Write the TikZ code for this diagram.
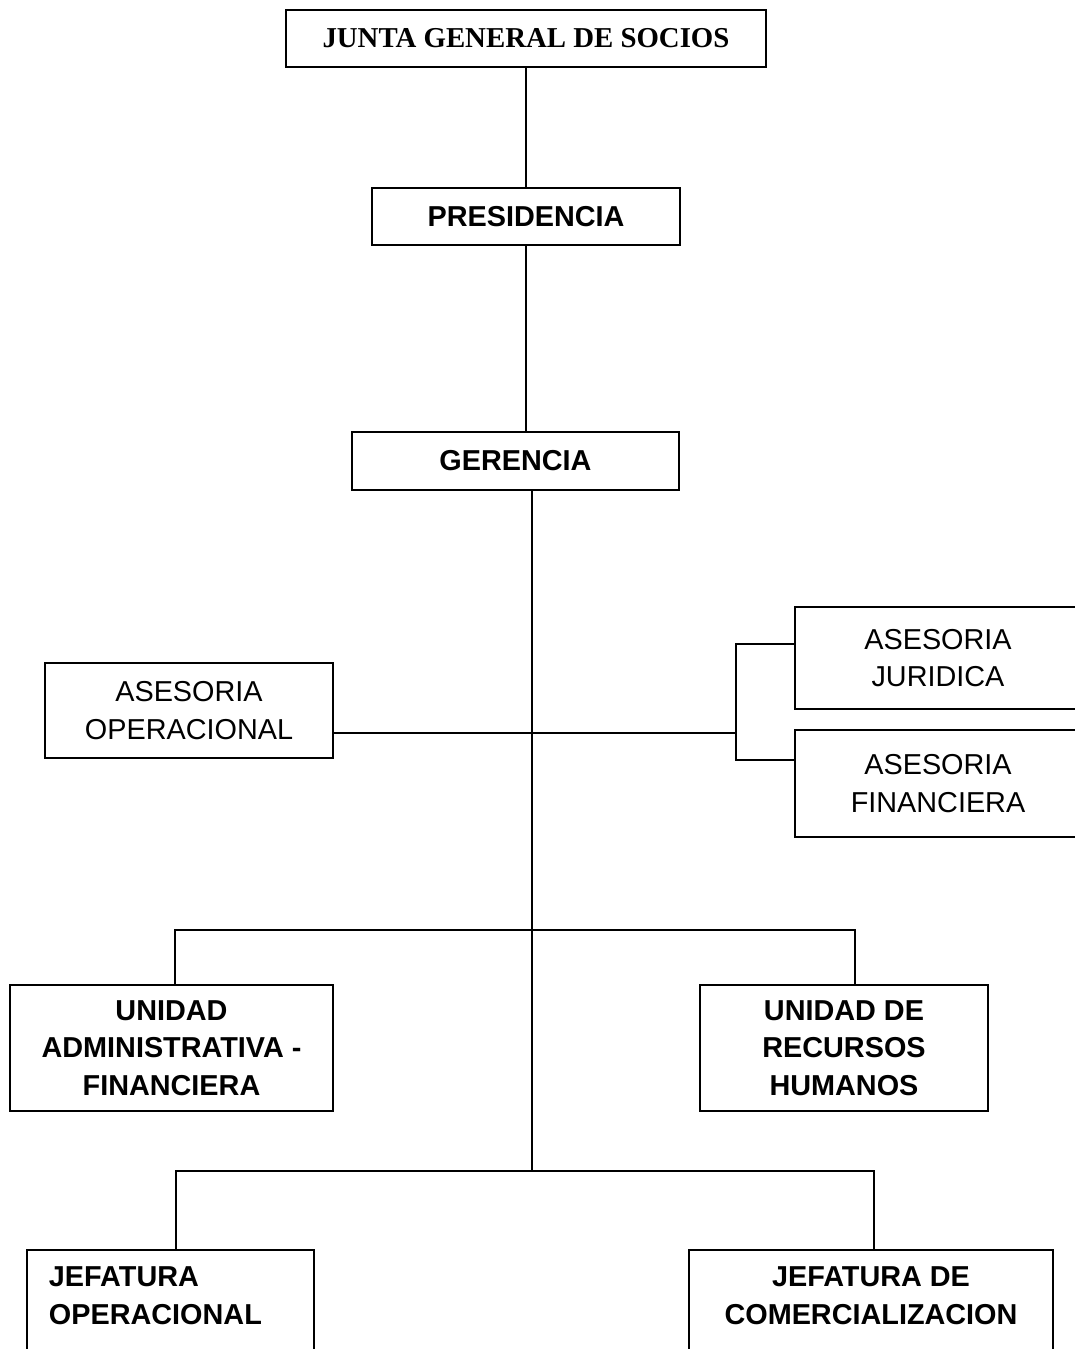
\documentclass[tikz,border=0pt]{standalone}
\usepackage{fontspec}
\setmainfont{Liberation Sans}
\newfontfamily\serifbf{Liberation Serif}
\begin{document}
\begin{tikzpicture}[x=0.02cm,y=-0.02cm,
  unit/.style={draw=black,line width=1.1pt,inner sep=0pt,align=center,font=\fontsize{16.4}{21.5}\selectfont},
  head/.style={unit,font=\fontsize{16.4}{21.5}\selectfont\bfseries},
  wire/.style={draw=black,line width=1.1pt}]
\useasboundingbox (0,0) rectangle (1075,1349);
\clip (0,0) rectangle (1075,1349);
\node[head,font=\fontsize{16.4}{21.5}\selectfont\serifbf\bfseries,minimum width=9.6cm,minimum height=1.14cm] (junta) at (526,38.5) {JUNTA GENERAL DE SOCIOS};
\node[head,minimum width=6.16cm,minimum height=1.14cm] (pres) at (526,216.5) {PRESIDENCIA};
\node[head,minimum width=6.54cm,minimum height=1.16cm] (ger) at (515.5,461) {GERENCIA};
\node[unit,minimum width=5.76cm,minimum height=1.9cm] (aop) at (189,710.5) {ASESORIA\\OPERACIONAL};
\node[unit,minimum width=5.72cm,minimum height=2.04cm] (ajur) at (938,658) {ASESORIA\\JURIDICA};
\node[unit,minimum width=5.72cm,minimum height=2.14cm] (afin) at (938,783.5) {ASESORIA\\FINANCIERA};
\node[head,minimum width=6.46cm,minimum height=2.52cm] (uadm) at (171.5,1048) {UNIDAD\\ADMINISTRATIVA -\\FINANCIERA};
\node[head,minimum width=5.76cm,minimum height=2.52cm] (urh) at (844,1048) {UNIDAD DE\\RECURSOS\\HUMANOS};
% jefaturas: the boxes run off the bottom of the page
\node[unit,anchor=north,minimum width=5.74cm,minimum height=3cm] (jop) at (170.5,1249) {};
\node[unit,anchor=north,minimum width=7.28cm,minimum height=3cm] (jcom) at (871,1249) {};
\node[head,draw=none,anchor=west,align=left] (joptxt) at (48,1296) {JEFATURA\\OPERACIONAL};
\node[head,draw=none] (jcomtxt) at (871,1296) {JEFATURA DE\\COMERCIALIZACION};
% junctions
\coordinate (hub) at (532,733);
\coordinate (rb) at (736,733);
\coordinate (rj) at (736,644);
\coordinate (rf) at (736,760);
\coordinate (b1l) at (175,930);
\coordinate (b1r) at (855,930);
\coordinate (b2l) at (176,1171);
\coordinate (b2r) at (874,1171);
\coordinate (trunk) at (532,1171);
\draw[wire] (junta.south -| pres) -- (pres.north);
\draw[wire] (pres.south) -- (pres.south |- ger.north);
\draw[wire] (ger.south -| trunk) -- (trunk);
\draw[wire] (aop.east |- hub) -- (rb);
\draw[wire] (ajur.west |- rj) -- (rj) -- (rf) -- (afin.west |- rf);
\draw[wire] (uadm.north -| b1l) -- (b1l) -- (b1r) -- (urh.north -| b1r);
\draw[wire] (jop.north -| b2l) -- (b2l) -- (b2r) -- (jcom.north -| b2r);
\end{tikzpicture}
\end{document}
